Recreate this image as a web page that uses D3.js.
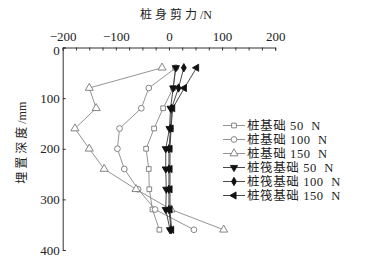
<!DOCTYPE html>
<html>
<head>
<meta charset="utf-8">
<script src="https://cdn.jsdelivr.net/npm/d3@7"></script>
<style>
  body { margin: 0; background: #fff; }
  text { font-family: "Liberation Serif", "Noto Sans CJK SC", serif; fill: #222; }
</style>
</head>
<body>
<div id="chartDiv"></div>
<script>
// depths (mm) and shear force (N)
var depths = [40, 80, 120, 160, 200, 240, 280, 320, 360];
var pile50 = [12, 8, -11, -28, -43, -38, -37, -31, -18];
var pile100 = [13, -38, -52, -93, -97, -84, -58, -26, 47];
var pile150 = [-13, -150, -137, -177, -150, -122, -62, 4, 103];
var raft50 = [13, 8, 3, 1, -6, -6, -5, -6, 2];
var raft100 = [28, 18, 5, 3, 0, 0, 0, 0, 4];
var raft150 = [52, 29, 7, 4, 2, 2, 2, 2, 5];
var xTicks = [-200, -100, 0, 100, 200];
var yTicks = [0, 100, 200, 300, 400];
var seriesNames = ["桩基础 50  N", "桩基础 100  N", "桩基础 150  N",
                   "桩筏基础 50  N", "桩筏基础 100  N", "桩筏基础 150  N"];

var series = [
  {name: seriesNames[0], values: pile50, shape: "square", filled: false},
  {name: seriesNames[1], values: pile100, shape: "circle", filled: false},
  {name: seriesNames[2], values: pile150, shape: "tri", filled: false},
  {name: seriesNames[3], values: raft50, shape: "tridown", filled: true},
  {name: seriesNames[4], values: raft100, shape: "diamond", filled: true},
  {name: seriesNames[5], values: raft150, shape: "trileft", filled: true}
];

var margin = {left: 62.7, top: 47.5},
    width = 212.5,
    height = 202.5;

var svg = d3.select("#chartDiv").append("svg")
    .attr("width", 368).attr("height", 266);

var g = svg.append("g")
    .attr("transform", "translate(" + margin.left + "," + margin.top + ")");

var x = d3.scaleLinear().domain([-200, 200]).range([0, width]);
var y = d3.scaleLinear().domain([0, 400]).range([0, height]);

// top axis with minor ticks every 25
g.append("g").attr("class", "xaxis")
  .call(d3.axisTop(x).tickValues(d3.range(-200, 201, 25)).tickSize(-3).tickFormat(""))
  .call(function(s) { s.selectAll("path,line").attr("stroke", "#333"); });
g.append("g").attr("class", "xaxis2")
  .call(d3.axisTop(x).tickValues(xTicks).tickSize(0).tickPadding(7)
    .tickFormat(function(d) { return d < 0 ? "\u2212" + (-d) : d; }))
  .call(function(s) {
    s.select(".domain").remove();
    s.selectAll("text").style("font-size", "13px").attr("fill", "#222");
  });

g.append("g").attr("class", "yaxis")
  .call(d3.axisLeft(y).tickValues(yTicks).tickSize(-3).tickPadding(3))
  .call(function(s) {
    s.selectAll("path,line").attr("stroke", "#333");
    s.selectAll("text").style("font-size", "13px").attr("fill", "#222")
      .attr("dy", function(d) { return d === 0 ? "0.5em" : "0.32em"; });
  });

// axis titles: spaced CJK part, unspaced unit
function title(sel, cjk, unit) {
  sel.append("tspan").style("letter-spacing", "3px").text(cjk);
  sel.append("tspan").text(unit);
}
svg.append("text")
  .attr("x", margin.left + x(0) + 7).attr("y", 19)
  .attr("text-anchor", "middle")
  .style("font-size", "12px")
  .call(title, "桩身剪力", "/N");

svg.append("text")
  .attr("transform", "translate(26," + (margin.top + y(200) - 6) + ") rotate(-90)")
  .attr("text-anchor", "middle")
  .style("font-size", "12px")
  .call(title, "埋置深度", "/mm");

var symbolFor = {
  square: d3.symbol().type(d3.symbolSquare).size(22),
  circle: d3.symbol().type(d3.symbolCircle).size(26),
  tri: d3.symbol().type(d3.symbolTriangle).size(28),
  tridown: d3.symbol().type(d3.symbolTriangle).size(22),
  diamond: d3.symbol().type(d3.symbolDiamond).size(20),
  trileft: d3.symbol().type(d3.symbolTriangle).size(22)
};
var rot = {square: 0, circle: 0, tri: 0, tridown: 180, diamond: 0, trileft: -90};

var line = d3.line()
  .x(function(d) { return x(d[0]); })
  .y(function(d) { return y(d[1]); });

function drawMarker(sel, s, px, py) {
  sel.append("path")
    .attr("d", symbolFor[s.shape]())
    .attr("transform", "translate(" + px + "," + py + ") rotate(" + rot[s.shape] + ")")
    .attr("fill", s.filled ? "#111" : "#fff")
    .attr("stroke", s.filled ? "#111" : "#777")
    .attr("stroke-width", 0.9);
}

series.forEach(function(s) {
  var pts = s.values.map(function(v, i) { return [v, depths[i]]; });
  g.append("path")
    .attr("d", line(pts))
    .attr("fill", "none")
    .attr("stroke", s.filled ? "#333" : "#888")
    .attr("stroke-width", 0.9);
  pts.forEach(function(p) { drawMarker(g, s, x(p[0]), y(p[1])); });
});

// legend
var leg = svg.append("g");
series.forEach(function(s, i) {
  var ly = 125.5 + i * 14;
  leg.append("line")
    .attr("x1", 223).attr("x2", 245).attr("y1", ly).attr("y2", ly)
    .attr("stroke", s.filled ? "#333" : "#888").attr("stroke-width", 0.9);
  drawMarker(leg, s, 234, ly);
  leg.append("text")
    .attr("x", 247).attr("y", ly + 4.5)
    .style("font-size", "12.5px")
    .style("letter-spacing", "0.6px")
    .style("white-space", "pre")
    .attr("xml:space", "preserve")
    .text(s.name);
});
</script>
</body>
</html>
